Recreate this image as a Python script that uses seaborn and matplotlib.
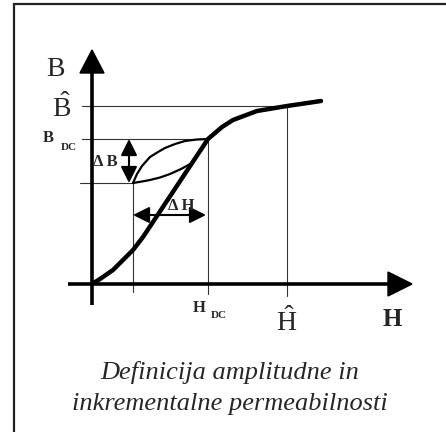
import numpy as np
import seaborn as sns
import matplotlib.pyplot as plt
from matplotlib.patches import Rectangle

# Magnetisation curve (H, B)
curve_h = [0, 8, 21, 41, 51, 116, 130, 141, 165, 195, 229]
curve_b = [0, 5, 14, 34, 47, 145, 157, 164, 173, 178, 183]

# Minor loop around the DC working point
loop_up_h = [41, 45, 50, 58, 66, 73, 83, 93, 105, 116]
loop_up_b = [101, 110, 118, 127, 132, 136, 140, 143, 144.5, 145]
loop_lo_h = [41, 50, 58, 68, 78, 89, 100]
loop_lo_b = [101, 102.5, 104, 106.5, 110, 115, 121]

# Characteristic points
h_low, h_dc, h_hat = 41, 116, 195
b_low, b_dc, b_hat = 101, 145, 178

sns.set_style("white")
plt.rcParams['mathtext.fontset'] = 'custom'
plt.rcParams['mathtext.rm'] = 'Liberation Serif'
plt.rcParams['mathtext.it'] = 'Liberation Serif:italic'
plt.rcParams['mathtext.bf'] = 'Liberation Serif:bold'

fig = plt.figure(figsize=(4.46, 4.32), dpi=100)
ax = fig.add_axes([0, 0, 1, 1])
ax.set_xlim(-92, 354)
ax.set_ylim(-148, 284)
ax.axis('off')

serif = 'Liberation Serif'

# frame
ax.add_patch(Rectangle((-78, -200), 500, 480, fill=False, lw=1.6, ec='#222222'))

# guide lines
gl = dict(color='#333333', lw=0.8)
ax.plot([-10, h_hat], [b_hat, b_hat], **gl)
ax.plot([h_hat, h_hat], [b_hat, -12], **gl)
ax.plot([-10, h_dc], [b_dc, b_dc], **gl)
ax.plot([h_dc, h_dc], [b_dc, -10], **gl)
ax.plot([-12, h_low], [b_low, b_low], **gl)
ax.plot([h_low, h_low], [b_low, -8], **gl)

# axes with arrows
ax.plot([0, 0], [-21, 215], color='black', lw=2.6, solid_capstyle='butt')
ax.arrow(0, 205, 0, 29, width=0, head_width=24, head_length=23,
         length_includes_head=True, fc='black', ec='black')
ax.plot([-24, 300], [0, 0], color='black', lw=2.6, solid_capstyle='butt')
ax.arrow(290, 0, 30, 0, width=0, head_width=24, head_length=24,
         length_includes_head=True, fc='black', ec='black')

# curves
sns.lineplot(x=curve_h, y=curve_b, sort=False, estimator=None, color='black',
             lw=3.2, ax=ax, solid_capstyle='round')
sns.lineplot(x=loop_up_h, y=loop_up_b, sort=False, estimator=None, color='black',
             lw=1.6, ax=ax)
sns.lineplot(x=loop_lo_h, y=loop_lo_b, sort=False, estimator=None, color='black',
             lw=1.6, ax=ax)

# delta arrows
ap = dict(arrowstyle='<|-|>,head_length=0.9,head_width=0.45', color='black',
          lw=1.5, mutation_scale=11, shrinkA=0, shrinkB=0)
ax.annotate('', xy=(37, b_low), xytext=(37, b_dc), arrowprops=ap)
ax.annotate('', xy=(h_low, 69), xytext=(h_dc - 2, 69), arrowprops=ap)

# labels
ax.text(-37, 215, 'B', family=serif, fontsize=20, ha='center', va='center')
ax.text(-30, 176, r'$\hat{\mathrm{B}}$', fontsize=20, ha='center', va='center')
ax.text(-44, 146, 'B', family=serif, fontsize=12, fontweight='bold', ha='center', va='center')
ax.text(-23, 137, 'DC', family=serif, fontsize=8, fontweight='bold', ha='center', va='center')
ax.text(13, 122, 'Δ B', family=serif, fontsize=12, fontweight='bold', ha='center', va='center')
ax.text(89, 78, 'Δ H', family=serif, fontsize=12, fontweight='bold', ha='center', va='center')
ax.text(107, -24, 'H', family=serif, fontsize=12, fontweight='bold', ha='center', va='center')
ax.text(127, -32, 'DC', family=serif, fontsize=8, fontweight='bold', ha='center', va='center')
ax.text(h_hat, -38, r'$\hat{\mathrm{H}}$', fontsize=20, ha='center', va='center')
ax.text(300, -36, 'H', family=serif, fontsize=18, fontweight='bold', ha='center', va='center')

ax.text(138, -88, 'Definicija amplitudne in', family=serif, style='italic',
        fontsize=19, ha='center', va='center')
ax.text(138, -120, 'inkrementalne permeabilnosti', family=serif, style='italic',
        fontsize=19, ha='center', va='center')

fig.savefig('out.png', dpi=100)
